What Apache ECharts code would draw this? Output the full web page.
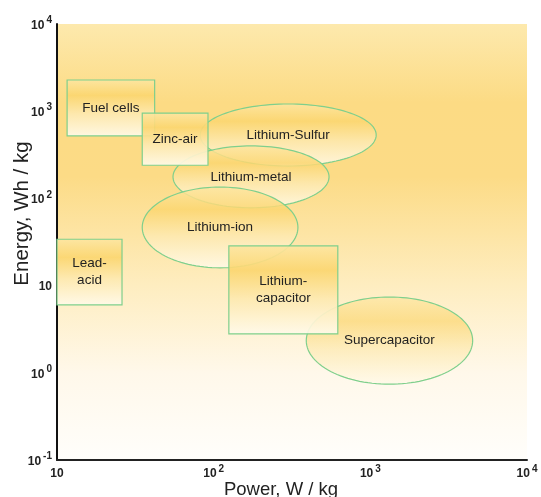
<!DOCTYPE html>
<html>
<head>
<meta charset="utf-8">
<script src="https://cdn.jsdelivr.net/npm/echarts@6/dist/echarts.min.js"></script>
<style>
  html, body { margin: 0; padding: 0; background: #ffffff; }
  #chart { width: 541px; height: 497px; }
</style>
</head>
<body>
<div id="chart"></div>
<script>
// Ragone plot: specific energy vs specific power ranges of storage technologies
const techNames = ['Lithium-Sulfur', 'Lithium-metal', 'Lithium-ion', 'Supercapacitor',
                   'Lead-\nacid', 'Fuel cells', 'Zinc-air', 'Lithium-\ncapacitor'];
const techShape = ['ellipse', 'ellipse', 'ellipse', 'ellipse', 'rect', 'rect', 'rect', 'rect'];
// power range, W/kg
const powerMin = [82, 55, 35, 390, 10, 11.6, 35, 125];
const powerMax = [1090, 545, 345, 4500, 26, 42, 92, 620];
// energy range, Wh/kg
const energyMin = [235, 78, 16, 0.74, 6.0, 520, 240, 2.8];
const energyMax = [1210, 400, 135, 7.4, 34, 2280, 950, 28.5];

const xTickExps = ['', '2', '3', '4'];          // 10, 10^2, 10^3, 10^4
const yTickExps = ['-1', '0', '', '2', '3', '4']; // 10^-1 ... 10^4

const shapeData = techNames.map((n, i) => [powerMin[i], powerMax[i], energyMin[i], energyMax[i], i]);

const FONT = '"Liberation Sans", Arial, sans-serif';

function tickRich() {
  return {
    b: { fontFamily: FONT, fontSize: 12, fontWeight: 'bold', color: '#222', verticalAlign: 'bottom', lineHeight: 15 },
    s: { fontFamily: FONT, fontSize: 10, fontWeight: 'bold', color: '#222', verticalAlign: 'bottom', lineHeight: 15, padding: [0, 0, 6, 2] }
  };
}
function tickText(exps, minExp) {
  return function (v) {
    const e = exps[Math.round(Math.log10(v)) - minExp];
    if (e === undefined) return '';
    return e === '' ? '{b|10}' : '{b|10}{s|' + e + '}';
  };
}

function shapeFill(alpha) {
  return new echarts.graphic.LinearGradient(0, 0, 0, 1, [
    { offset: 0, color: 'rgba(253,230,162,' + alpha + ')' },
    { offset: 0.28, color: 'rgba(251,214,112,' + alpha + ')' },
    { offset: 0.6, color: 'rgba(253,233,176,' + alpha + ')' },
    { offset: 1, color: 'rgba(255,250,234,' + alpha + ')' }
  ]);
}

function renderShape(params, api) {
  const i = api.value(4);
  const p0 = api.coord([api.value(0), api.value(2)]);
  const p1 = api.coord([api.value(1), api.value(3)]);
  const x0 = Math.min(p0[0], p1[0]), x1 = Math.max(p0[0], p1[0]);
  const y0 = Math.min(p0[1], p1[1]), y1 = Math.max(p0[1], p1[1]);
  const cx = (x0 + x1) / 2, cy = (y0 + y1) / 2;
  const kind = techShape[i];
  const stroke = '#7fcf8c';
  let body;
  if (kind === 'rect') {
    body = {
      type: 'rect',
      shape: { x: x0, y: y0, width: x1 - x0, height: y1 - y0 },
      style: { fill: shapeFill(0.92), stroke: stroke, lineWidth: 1.2 }
    };
  } else {
    const pts = [];
    const rx = (x1 - x0) / 2, ry = (y1 - y0) / 2;
    for (let k = 0; k < 120; k++) {
      const t = (k / 120) * Math.PI * 2;
      pts.push([cx + rx * Math.cos(t), cy + ry * Math.sin(t)]);
    }
    body = {
      type: 'polygon',
      shape: { points: pts },
      style: { fill: shapeFill(i === 3 ? 0.7 : 0.85), stroke: stroke, lineWidth: 1.2 }
    };
  }
  return {
    type: 'group',
    children: [
      body,
      {
        type: 'text',
        style: {
          text: techNames[i], x: cx, y: cy, align: 'center', verticalAlign: 'middle',
          font: '13.5px ' + FONT, fill: '#222', lineHeight: 17
        }
      }
    ]
  };
}

const chart = echarts.init(document.getElementById('chart'), null, { renderer: 'canvas' });
chart.setOption({
  animation: false,
  backgroundColor: '#ffffff',
  grid: {
    left: 57, right: 14, top: 24, bottom: 37,
    outerBoundsMode: 'none', containLabel: false,
    show: true, borderWidth: 0,
    backgroundColor: new echarts.graphic.LinearGradient(0, 0, 0, 1, [
      { offset: 0, color: '#fde9ad' },
      { offset: 0.18, color: '#fcdb84' },
      { offset: 0.35, color: '#fcdb86' },
      { offset: 0.6, color: '#feedc0' },
      { offset: 0.8, color: '#fff8ea' },
      { offset: 1, color: '#fffefb' }
    ])
  },
  xAxis: {
    type: 'log', logBase: 10, min: 10, max: 10000,
    name: 'Power, W / kg', nameLocation: 'middle', nameGap: 20, nameMoveOverlap: false,
    nameTextStyle: { fontFamily: FONT, fontSize: 18.5, color: '#222', padding: [0, 22, 0, 0] },
    axisLine: { lineStyle: { color: '#222', width: 2 } },
    axisTick: { show: false },
    splitLine: { show: false },
    axisLabel: { margin: 5, formatter: tickText(xTickExps, 1), rich: tickRich(), showMinLabel: true, showMaxLabel: true }
  },
  yAxis: {
    type: 'log', logBase: 10, min: 0.1, max: 10000,
    name: 'Energy, Wh / kg', nameLocation: 'middle', nameGap: 24, nameMoveOverlap: false,
    nameTextStyle: { fontFamily: FONT, fontSize: 20.5, color: '#222', padding: [0, 0, 0, 57] },
    axisLine: { lineStyle: { color: '#111', width: 2 } },
    axisTick: { show: false },
    splitLine: { show: false },
    axisLabel: { margin: 5, formatter: tickText(yTickExps, -1), rich: tickRich(), showMinLabel: true, showMaxLabel: true }
  },
  series: [{
    type: 'custom',
    renderItem: renderShape,
    encode: { x: [0, 1], y: [2, 3] },
    data: shapeData,
    clip: false
  }]
});
</script>
</body>
</html>
